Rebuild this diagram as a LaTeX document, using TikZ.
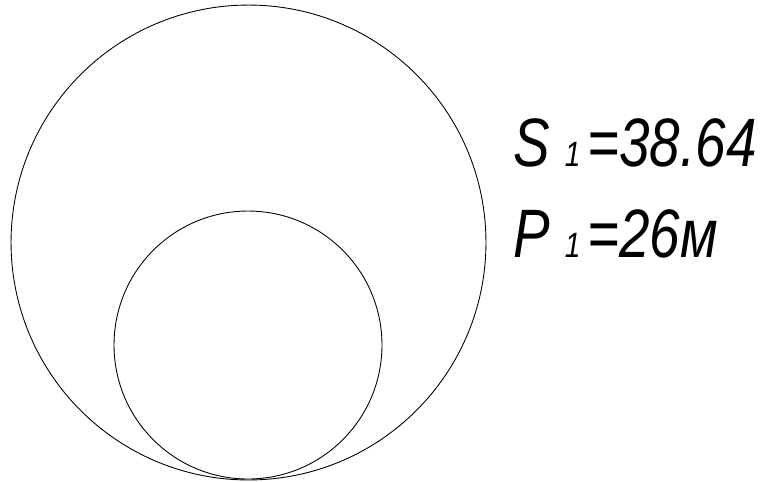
\documentclass[tikz,border=0pt]{standalone}
\usepackage{fontspec}
\setmainfont{Liberation Sans}[FakeStretch=0.8]
\usepackage{tikz}
\tikzset{
  cr diagram/.style={x=0.02cm, y=-0.02cm, line cap=round, line join=round},
  cr ring/.style={draw=black, line width=0.5pt, circle, inner sep=0pt},
  cr label/.style={anchor=base west, inner sep=0pt,
    font=\itshape\fontsize{39}{44}\selectfont}
}
\newcommand{\crsub}[1]{\hspace{0.22em}{\fontsize{20}{22}\selectfont #1}\hspace{0.1em}}

\begin{document}
\begin{tikzpicture}[cr diagram]
\useasboundingbox (0,0) rectangle (763,481);
\node[cr ring,minimum size=9.5cm] (outer) at (248.5,242.5) {};
\node[cr ring,minimum size=5.36cm] (inner) at (248,345) {};
\node[cr label] (area) at (513,166) {S\crsub{1}=38.64};
\node[cr label] (perim) at (513,257) {P\crsub{1}=26м};
\end{tikzpicture}
\end{document}
